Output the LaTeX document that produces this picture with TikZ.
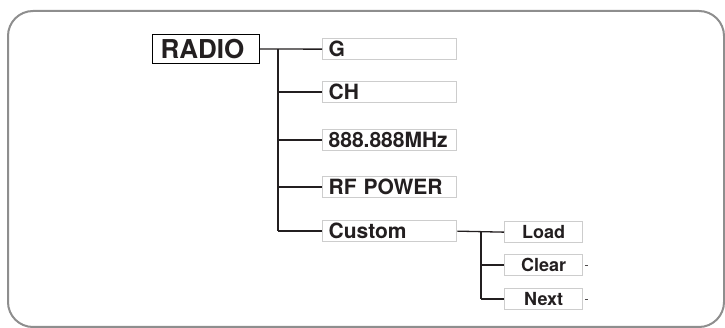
\documentclass[tikz,border=0pt]{standalone}
\usepackage{fontspec}
\setmainfont{TeX Gyre Heros}
\definecolor{framegray}{HTML}{8E8E8E}
\definecolor{boxline}{HTML}{CDCDCD}
\definecolor{ink}{HTML}{231F20}
\begin{document}
\begin{tikzpicture}[x=1pt,y=-1pt,
  item/.style={draw=boxline, line width=1.3pt, anchor=north west,
    minimum width=134pt, minimum height=21pt, inner xsep=6pt, inner ysep=3pt,
    text width=122pt, align=left, text height=15pt, text depth=0pt,
    font=\bfseries\fontsize{21}{21}\selectfont, text=ink},
  subitem/.style={draw=boxline, line width=1.3pt, anchor=north west,
    minimum width=78pt, minimum height=21pt, inner xsep=0pt, inner ysep=4pt,
    text width=78pt, align=center, text height=13pt, text depth=0pt,
    font=\bfseries\fontsize{18}{18}\selectfont, text=ink},
  rootbox/.style={draw=black, line width=1pt, anchor=north west,
    minimum width=107pt, minimum height=29pt, inner xsep=8pt, inner ysep=5pt,
    text width=91pt, align=left, text height=19pt, text depth=0pt,
    font=\bfseries\fontsize{26}{26}\selectfont, text=ink},
  conn/.style={draw=ink, line width=1.3pt},
  tick/.style={draw=ink!80, line width=1pt}]
\useasboundingbox (0,0) rectangle (725,328);
\draw[framegray, line width=2pt, rounded corners=25pt] (8,11) rectangle (724,327);

\node[rootbox] (radio) at (152,34) {RADIO};
\node[item] (g) at (322,38) {G};
\node[item] (ch) at (322,81) {CH};
\node[item] (mhz) at (322,129) {888.888MHz};
\node[item] (rf) at (322,176) {RF POWER};
\node[item] (custom) at (322,220) {Custom};
\node[subitem] (load) at (504,221) {Load};
\node[subitem] (clear) at (504,254) {Clear};
\node[subitem] (next) at (504,288) {Next};

\coordinate (t) at (278,48.5);
\coordinate (s) at (481,231);

\draw[conn] (radio.east) -- (g.west);
\draw[conn] (t |- radio.east) -- (t |- custom.west);
\draw[conn] (t |- ch.west) -- (ch.west);
\draw[conn] (t |- mhz.west) -- (mhz.west);
\draw[conn] (t |- rf.west) -- (rf.west);
\draw[conn] (t |- custom.west) -- (custom.west);

\draw[conn] (custom.east) -- (load.west);
\draw[conn] (s |- load.west) -- (s |- next.west);
\draw[conn] (s |- clear.west) -- (clear.west);
\draw[conn] (s |- next.west) -- (next.west);

\draw[tick] ([xshift=1.5pt]clear.east) -- ++(3,0);
\draw[tick] ([xshift=1.5pt]next.east) -- ++(3,0);
\end{tikzpicture}
\end{document}
